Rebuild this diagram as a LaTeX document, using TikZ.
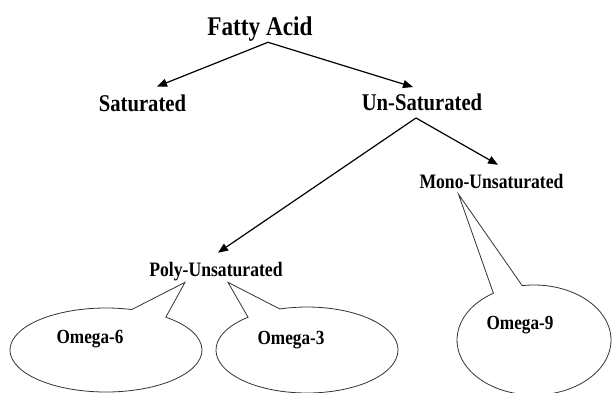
\documentclass[tikz,border=0pt]{standalone}
\usepackage{fontspec}
\setmainfont[FakeStretch=0.86]{Liberation Serif}
\usetikzlibrary{arrows.meta,shapes.callouts}

\begin{document}
\begin{tikzpicture}[x=1pt,y=-1pt,
  lbl/.style={font=\bfseries, inner sep=1pt, outer sep=0pt},
  arr/.style={-{Triangle[length=10pt,width=8pt]}, line width=1.2pt},
  omega/.style={font=\bfseries\fontsize{20}{20}\selectfont},
  bubble/.style={ellipse callout, draw=black!80, line width=0.8pt, fill=white,
    callout pointer arc=23}]
\useasboundingbox (0,0) rectangle (612,392);
%\draw[help lines,step=20pt] (0,0) grid (612,392);
\node[lbl,font=\bfseries\fontsize{27}{27}\selectfont] (fa) at (260,29) {Fatty Acid};
\node[lbl,font=\bfseries\fontsize{24}{24}\selectfont] (sat) at (142.5,103) {Saturated};
\node[lbl,font=\bfseries\fontsize{24}{24}\selectfont] (unsat) at (422,102.5) {Un-Saturated};
\node[lbl,font=\bfseries\fontsize{20.5}{20.5}\selectfont] (mono) at (491.5,182) {Mono-Unsaturated};
\node[lbl,font=\bfseries\fontsize{20.5}{20.5}\selectfont] (poly) at (216,272) {Poly-Unsaturated};

\draw[arr] ([xshift=8pt]fa.south) -- ([xshift=14.5pt,yshift=7pt]sat.north);
\draw[arr] ([xshift=8pt]fa.south) -- ([xshift=-9pt,yshift=6pt]unsat.north);
\draw[arr] ([xshift=-6pt,yshift=-6pt]unsat.south) -- ([xshift=6.5pt,yshift=9pt]mono.north);
\draw[arr] ([xshift=-6pt,yshift=-6pt]unsat.south) -- ([xshift=2pt,yshift=9pt]poly.north);

% omega bubbles
\node[bubble, minimum width=192pt, minimum height=84pt,
  callout absolute pointer={([xshift=-31pt]poly.south)},
  label={[omega,xshift=-16pt,yshift=11pt]center:Omega-6}]
  (o6) at (106,350) {};
\node[bubble, minimum width=182pt, minimum height=86pt,
  callout absolute pointer={([xshift=12pt]poly.south)},
  label={[omega,xshift=-16pt,yshift=10pt]center:Omega-3}]
  (o3) at (307,350) {};
\node[bubble, minimum width=154pt, minimum height=110pt,
  callout absolute pointer={([xshift=-33pt,yshift=-4pt]mono.south)},
  label={[omega,xshift=-14pt,yshift=15pt]center:Omega-9}]
  (o9) at (534,340) {};
\end{tikzpicture}
\end{document}
